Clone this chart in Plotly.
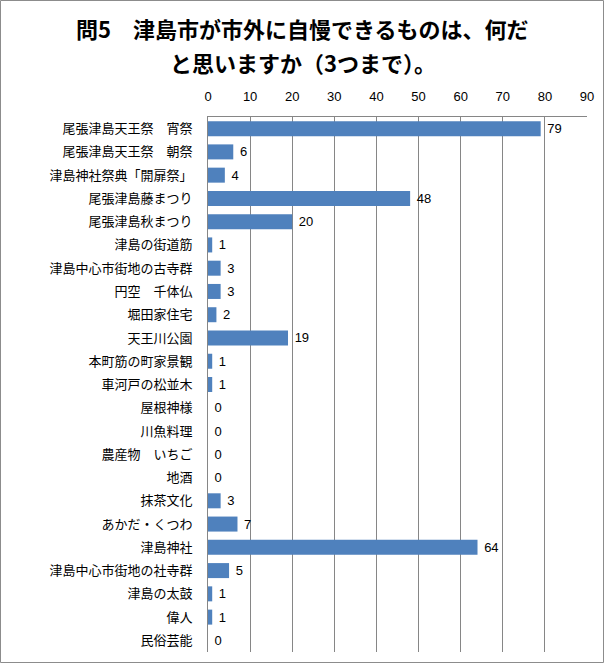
import plotly.graph_objects as go

categories = [
    "尾張津島天王祭　宵祭", "尾張津島天王祭　朝祭", "津島神社祭典「開扉祭」",
    "尾張津島藤まつり", "尾張津島秋まつり", "津島の街道筋", "津島中心市街地の古寺群",
    "円空　千体仏", "堀田家住宅", "天王川公園", "本町筋の町家景観", "車河戸の松並木",
    "屋根神様", "川魚料理", "農産物　いちご", "地酒", "抹茶文化", "あかだ・くつわ",
    "津島神社", "津島中心市街地の社寺群", "津島の太鼓", "偉人", "民俗芸能",
]
values = [79, 6, 4, 48, 20, 1, 3, 3, 2, 19, 1, 1, 0, 0, 0, 0, 3, 7, 64, 5, 1, 1, 0]
tick_vals = [0, 10, 20, 30, 40, 50, 60, 70, 80, 90]
title_lines = ["問5　津島市が市外に自慢できるものは、何だ", "と思いますか（3つまで）。"]

W, H = 605, 664
ml, mr, mt, mb = 208, 18, 117, 12
pw = W - ml - mr
ph = H - mt - mb

fig = go.Figure(go.Bar(
    x=values, y=categories, orientation="h",
    marker=dict(color="#4F81BD", line=dict(width=0)),
    width=0.645,
    text=[" " + str(v) for v in values], textposition="outside",
    constraintext="none",
    textfont=dict(family="Liberation Sans, Arial", size=13, color="#000000"),
    cliponaxis=False,
))

fig.add_shape(type="rect", xref="paper", yref="paper",
              x0=(0.5 - ml) / pw, x1=(W - 1.5 - ml) / pw,
              y0=-(mb - 1.5) / ph, y1=1 + (mt - 0.5) / ph,
              line=dict(color="#8C8C8C", width=1), fillcolor="rgba(0,0,0,0)", layer="above")

cx = (W / 2 - ml) / pw
for line, ypix in zip(title_lines, [28, 62]):
    fig.add_annotation(text="<b>" + line + "</b>", xref="paper", yref="paper",
                       x=cx, y=1 + (mt - ypix) / ph, xanchor="center", yanchor="middle",
                       showarrow=False,
                       font=dict(family="Noto Sans CJK JP", size=22, color="#000000"))

fig.update_layout(
    width=W, height=H,
    margin=dict(l=ml, r=mr, t=mt, b=mb),
    paper_bgcolor="white", plot_bgcolor="white",
    showlegend=False,
    font=dict(family="Noto Sans CJK JP", color="#000000"),
    xaxis=dict(side="top", range=[0, 90], tickvals=tick_vals, showgrid=True,
               gridcolor="#868686", gridwidth=1, showline=True, linecolor="#868686",
               linewidth=1, zeroline=False, ticks="", ticklabelstandoff=10,
               tickfont=dict(family="Liberation Sans, Arial", size=13, color="#000000")),
    yaxis=dict(autorange="reversed", showline=True, linecolor="#868686", linewidth=1,
               showgrid=False, ticks="", ticklabelstandoff=12,
               tickfont=dict(family="Noto Sans CJK JP", size=13, color="#000000")),
)
fig.write_html("out.html")
